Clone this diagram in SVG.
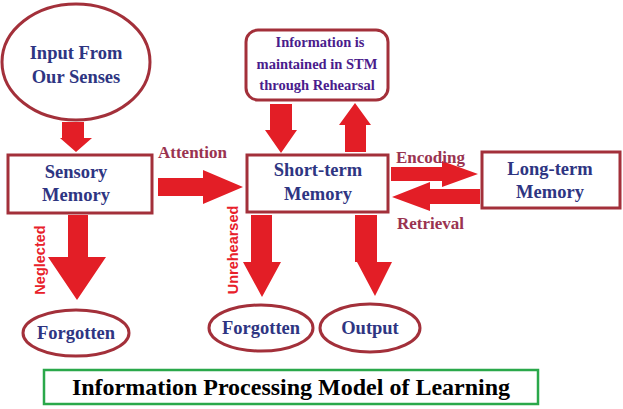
<svg xmlns="http://www.w3.org/2000/svg" width="623" height="409" viewBox="0 0 623 409">
<style>
.n{fill:#fff;stroke:#a3303a;stroke-width:3}
.t{font-family:"Liberation Serif",serif;font-weight:bold;fill:#2e3582;text-anchor:middle;font-size:18.5px}
.i{font-family:"Liberation Serif",serif;font-weight:bold;fill:#4a1c8c;text-anchor:middle;font-size:14.5px}
.l{font-family:"Liberation Serif",serif;font-weight:bold;fill:#9a3350;font-size:17px}
.v{font-family:"Liberation Sans",sans-serif;font-weight:bold;fill:#e8202a;font-size:14.5px;text-anchor:middle}
.a{fill:#e31e26}
</style>
<rect width="623" height="409" fill="#fff"/>
<g id="connectors">
<polygon class="a" points="62,122 84,122 84,138 92,138 76,152 60,138 62,138"/>
<polygon class="a" points="158,178 203,178 203,170 243,187 203,204 203,196 158,196"/>
<polygon class="a" points="270,104 292,104 292,130 297,130 281,153 265,130 270,130"/>
<polygon class="a" points="345,152 345,125 339,125 355,103 371,125 366,125 366,152"/>
<polygon class="a" points="391,167 442,167 442,161 478,174 442,187 442,181 391,181"/>
<polygon class="a" points="480,189 430,189 430,182 392,197 430,211 430,204 480,204"/>
<polygon class="a" points="68,215 88,215 88,257 106,257 77,300 48,257 68,257"/>
<polygon class="a" points="251,215 272,215 272,262 281,262 262,297 243,262 251,262"/>
<polygon class="a" points="355,215 377,215 377,262 392,262 375,296 357,262 355,262"/>
</g>
<g id="input"><ellipse class="n" cx="76" cy="62" rx="74" ry="58"/><text class="t" x="76" y="59">Input From</text><text class="t" x="76" y="83">Our Senses</text></g>
<g id="sensory"><rect class="n" x="8" y="155" width="144" height="58"/><text class="t" x="76" y="178">Sensory</text><text class="t" x="76" y="201">Memory</text></g>
<g id="rehearsal"><rect class="n" x="246" y="30" width="142" height="70" rx="12"/><text class="i" x="320" y="47">Information is</text><text class="i" x="317" y="69">maintained in STM</text><text class="i" x="317" y="90">through Rehearsal</text></g>
<g id="stm"><rect class="n" x="247" y="155" width="141" height="57"/><text class="t" x="318" y="176">Short-term</text><text class="t" x="318" y="200">Memory</text></g>
<g id="ltm"><rect class="n" x="482" y="152" width="138" height="56"/><text class="t" x="550" y="175">Long-term</text><text class="t" x="550" y="198">Memory</text></g>
<g id="forgotten1"><ellipse class="n" cx="76" cy="333" rx="53" ry="23"/><text class="t" x="76" y="339">Forgotten</text></g>
<g id="forgotten2"><ellipse class="n" cx="261" cy="328" rx="52" ry="23"/><text class="t" x="261" y="334">Forgotten</text></g>
<g id="output"><ellipse class="n" cx="370" cy="328" rx="50" ry="24"/><text class="t" x="370" y="334">Output</text></g>
<g id="labels">
<text class="l" x="158" y="158">Attention</text>
<text class="l" x="396" y="163">Encoding</text>
<text class="l" x="397" y="229">Retrieval</text>
<text class="v" transform="translate(45,260) rotate(-90)">Neglected</text>
<text class="v" transform="translate(238,250) rotate(-90)">Unrehearsed</text>
</g>
<g id="title"><rect x="44" y="370" width="494" height="34" fill="#fff" stroke="#2aa84a" stroke-width="2.5"/><text x="291" y="395" font-family="Liberation Serif,serif" font-weight="bold" font-size="24" text-anchor="middle" fill="#000">Information Processing Model of Learning</text></g>
</svg>
